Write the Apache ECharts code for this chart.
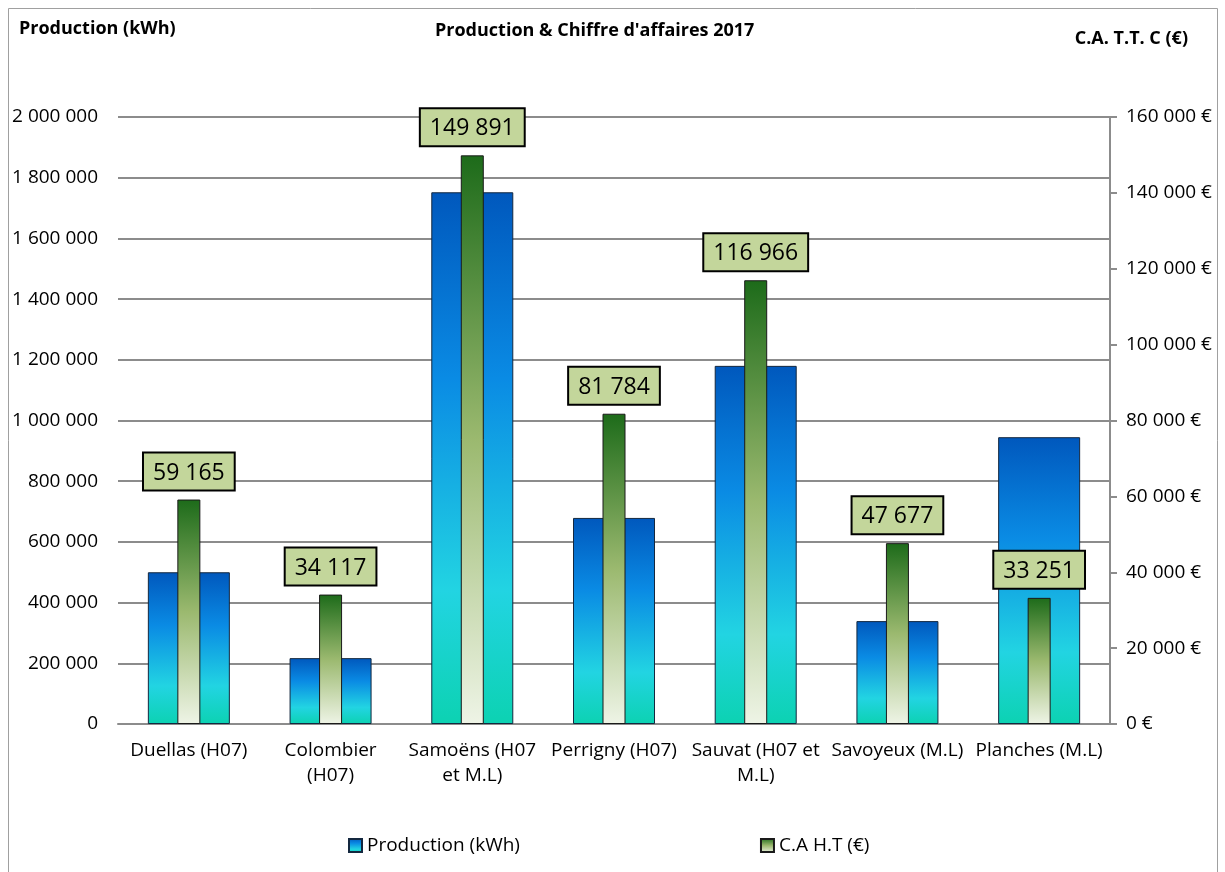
<!DOCTYPE html>
<html>
<head>
<meta charset="utf-8">
<script src="https://cdn.jsdelivr.net/npm/echarts@6/dist/echarts.min.js"></script>
<style>
  html, body { margin: 0; padding: 0; background: #fff; }
  #chart { width: 1225px; height: 872px; }
</style>
</head>
<body>
<div id="chart"></div>
<script>
// données du graphique
var sites = ["Duellas (H07)", "Colombier\n(H07)", "Samoëns (H07\net M.L)", "Perrigny (H07)", "Sauvat (H07 et\nM.L)", "Savoyeux (M.L)", "Planches (M.L)"];
var production = [500000, 217000, 1752000, 679000, 1180000, 339000, 945000];
var chiffreAffaires = [59165, 34117, 149891, 81784, 116966, 47677, 33251];

var fontName = "'Open Sans', sans-serif";

// 1234567 -> "1 234 567"
function espaces(v) {
  return String(Math.round(v)).replace(/\B(?=(\d{3})+(?!\d))/g, " ");
}

var blueGrad = new echarts.graphic.LinearGradient(0, 0, 0, 1, [
  { offset: 0, color: "#0058bd" },
  { offset: 0.35, color: "#0a8be4" },
  { offset: 0.75, color: "#22d4e2" },
  { offset: 1, color: "#0cd2b2" }
]);
var greenGrad = new echarts.graphic.LinearGradient(0, 0, 0, 1, [
  { offset: 0, color: "#1d6b1a" },
  { offset: 0.5, color: "#9bb96f" },
  { offset: 1, color: "#eef4e6" }
]);

var mychart = echarts.init(document.getElementById("chart"));
var option = {
  backgroundColor: "#fff",
  textStyle: { fontFamily: fontName },
  animation: false,
  graphic: [
    { type: "rect", shape: { x: 8.5, y: 8.5, width: 1209, height: 880 }, style: { fill: "none", stroke: "#a0a0a0", lineWidth: 1 } },
    { type: "text", left: 19, top: 20, style: { text: "Production (kWh)", font: "bold 18px " + fontName, fill: "#000" } },
    { type: "text", left: 435, top: 22, style: { text: "Production & Chiffre d'affaires 2017", font: "bold 18px " + fontName, fill: "#000" } },
    { type: "text", right: 37, top: 30, style: { text: "C.A. T.T. C (€)", font: "bold 18px " + fontName, fill: "#000" } }
  ],
  legend: {
    bottom: 12,
    left: 343,
    itemGap: 240,
    itemWidth: 13,
    itemHeight: 13,
    icon: "rect",
    textStyle: { fontSize: 19, color: "#000", fontFamily: fontName },
    data: ["Production (kWh)", "C.A H.T (€)"]
  },
  grid: { left: 118, right: 115, top: 117, bottom: 148 },
  xAxis: [
    {
      type: "category",
      data: sites,
      axisLine: { lineStyle: { color: "#8c8c8c", width: 2 } },
      axisTick: { show: false },
      axisLabel: { color: "#000", fontSize: 19, lineHeight: 25, margin: 14, interval: 0 }
    },
    { type: "category", data: sites, show: false }
  ],
  yAxis: [
    {
      type: "value",
      min: 0, max: 2000000, interval: 200000,
      axisLine: { show: false },
      axisTick: { show: false },
      splitLine: { lineStyle: { color: "#8c8c8c", width: 2 } },
      axisLabel: { color: "#000", fontSize: 19, margin: 20, formatter: espaces }
    },
    {
      type: "value",
      min: 0, max: 160000, interval: 20000,
      position: "right",
      axisLine: { show: true, lineStyle: { color: "#8c8c8c", width: 2 } },
      axisTick: { show: true, length: 7, lineStyle: { color: "#8c8c8c", width: 2 } },
      splitLine: { show: false },
      axisLabel: { color: "#000", fontSize: 19, margin: 16, formatter: function (v) { return espaces(v) + " €"; } }
    }
  ],
  series: [
    {
      name: "Production (kWh)",
      type: "bar",
      xAxisIndex: 0,
      yAxisIndex: 0,
      barWidth: 82,
      data: production,
      itemStyle: { color: blueGrad, borderColor: "#14283f", borderWidth: 1 }
    },
    {
      name: "C.A H.T (€)",
      type: "bar",
      xAxisIndex: 1,
      yAxisIndex: 1,
      barWidth: 23,
      z: 3,
      data: chiffreAffaires,
      itemStyle: { color: greenGrad, borderColor: "#1a1a1a", borderWidth: 1 },
      label: {
        show: true,
        position: "top",
        distance: 10,
        formatter: function (p) { return espaces(p.value); },
        fontSize: 23,
        color: "#000",
        backgroundColor: "#c3d69b",
        borderColor: "#000",
        borderWidth: 2,
        padding: [8, 9, 5, 9]
      }
    }
  ]
};
mychart.setOption(option);
</script>
</body>
</html>
